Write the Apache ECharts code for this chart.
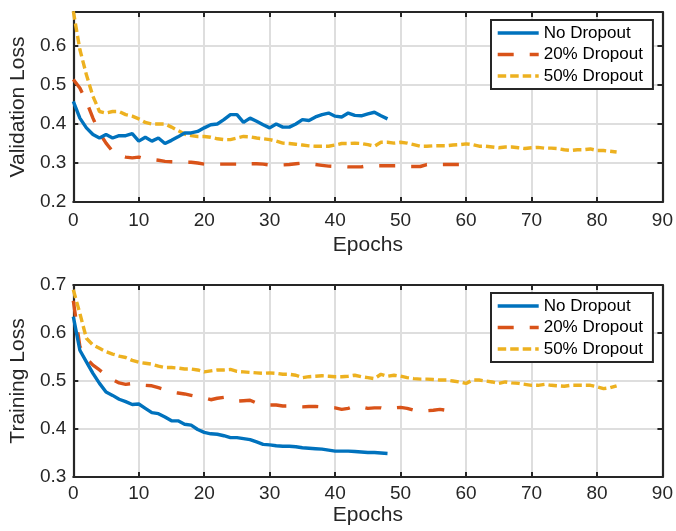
<!DOCTYPE html>
<html>
<head>
<meta charset="utf-8">
<script src="https://cdn.jsdelivr.net/npm/echarts@6/dist/echarts.min.js"></script>
<style>
  html, body { margin: 0; padding: 0; background: #fff; }
  #chart { width: 676px; height: 531px; }
</style>
</head>
<body>
<div id="chart"></div>
<script>
var seriesNames = ['No Dropout', '20% Dropout', '50% Dropout'];
var xTicks = [0, 10, 20, 30, 40, 50, 60, 70, 80, 90];

// validation loss, one value per epoch starting at 0
var valNoDrop = [0.458,0.415,0.39,0.373,0.364,0.373,0.364,0.37,0.37,0.375,
    0.356,0.366,0.356,0.364,0.35,0.358,0.367,0.377,0.377,0.381,
    0.39,0.398,0.40,0.411,0.424,0.424,0.404,0.415,0.407,0.398,
    0.39,0.40,0.392,0.392,0.40,0.411,0.409,0.418,0.424,0.428,
    0.42,0.418,0.428,0.422,0.421,0.426,0.43,0.421,0.413];
var valDrop20 = [0.514,0.492,0.458,0.415,0.377,0.351,0.33,0.32,0.315,0.313,
    0.315,0.31,0.309,0.307,0.304,0.303,0.302,0.302,0.302,0.30,
    0.297,0.297,0.297,0.297,0.297,0.297,0.302,0.298,0.298,0.297,
    0.295,0.295,0.295,0.296,0.298,0.30,0.298,0.296,0.294,0.292,
    0.291,0.291,0.29,0.29,0.29,0.293,0.293,0.293,0.293,0.293,
    0.293,0.291,0.291,0.291,0.296,0.296,0.296,0.296,0.296,0.296];
var valDrop50 = [0.689,0.591,0.526,0.471,0.432,0.428,0.432,0.432,0.424,0.42,
    0.413,0.404,0.40,0.40,0.40,0.392,0.383,0.374,0.37,0.368,
    0.368,0.366,0.362,0.36,0.36,0.364,0.368,0.367,0.364,0.362,
    0.36,0.356,0.351,0.35,0.348,0.346,0.344,0.343,0.343,0.343,
    0.346,0.35,0.35,0.351,0.35,0.347,0.343,0.353,0.353,0.351,
    0.353,0.351,0.347,0.343,0.343,0.344,0.344,0.344,0.346,0.347,
    0.349,0.347,0.343,0.343,0.341,0.339,0.341,0.341,0.339,0.337,
    0.339,0.34,0.338,0.338,0.337,0.334,0.332,0.334,0.334,0.336,
    0.332,0.332,0.33,0.328];

// training loss
var trainNoDrop = [0.634,0.564,0.54,0.516,0.495,0.477,0.47,0.462,0.457,0.451,
    0.452,0.443,0.434,0.432,0.425,0.417,0.417,0.41,0.408,0.399,
    0.393,0.39,0.389,0.386,0.382,0.382,0.38,0.378,0.373,0.368,
    0.367,0.365,0.364,0.364,0.363,0.361,0.36,0.359,0.358,0.356,
    0.354,0.354,0.354,0.353,0.352,0.351,0.351,0.35,0.349];
var trainDrop20 = [0.667,0.572,0.547,0.533,0.523,0.512,0.503,0.496,0.493,0.495,
    0.495,0.491,0.49,0.486,0.482,0.477,0.475,0.473,0.47,0.467,
    0.465,0.461,0.464,0.466,0.461,0.458,0.459,0.46,0.454,0.452,
    0.45,0.45,0.448,0.448,0.446,0.446,0.447,0.447,0.446,0.445,
    0.444,0.441,0.443,0.448,0.446,0.443,0.444,0.444,0.441,0.444,
    0.445,0.443,0.439,0.436,0.438,0.439,0.441,0.439,0.438,0.438];
var trainDrop50 = [0.69,0.641,0.589,0.575,0.568,0.561,0.556,0.552,0.549,0.543,
    0.539,0.537,0.535,0.531,0.528,0.528,0.527,0.525,0.525,0.523,
    0.519,0.521,0.523,0.523,0.524,0.52,0.519,0.518,0.517,0.516,
    0.517,0.516,0.514,0.514,0.512,0.507,0.509,0.51,0.511,0.51,
    0.509,0.509,0.51,0.512,0.509,0.507,0.505,0.514,0.51,0.512,
    0.51,0.507,0.505,0.504,0.504,0.503,0.502,0.502,0.5,0.498,
    0.495,0.502,0.502,0.5,0.498,0.495,0.498,0.496,0.495,0.493,
    0.491,0.491,0.493,0.491,0.49,0.489,0.491,0.491,0.491,0.491,
    0.488,0.484,0.486,0.49];

var colors = ['#0072BD', '#D95319', '#EDB120'];
var dashes = ['solid', [16, 16], [8.5, 4]];
var axisColor = '#262626';
var gridColor = '#dedede';
var font = 'Liberation Sans, Arial, sans-serif';
var lineW = 3.4;

function pairs(arr) {
    return arr.map(function (v, i) { return [i, v]; });
}

function mainX(grid, labelMargin, nameGap) {
    return {
        type: 'value', gridIndex: grid, min: 0, max: 90, interval: 10,
        name: 'Epochs', nameLocation: 'middle', nameGap: nameGap,
        nameTextStyle: { color: axisColor, fontSize: 21, fontFamily: font },
        axisLine: { show: true, lineStyle: { color: axisColor, width: 2.2 } },
        axisTick: { show: true, inside: true, length: 5, lineStyle: { color: axisColor, width: 2 } },
        axisLabel: { color: axisColor, fontSize: 19, fontFamily: font, margin: labelMargin },
        splitLine: { show: true, lineStyle: { color: gridColor, width: 2 } }
    };
}
function boxX(grid) {
    return {
        type: 'value', gridIndex: grid, position: 'top', min: 0, max: 90, interval: 10,
        axisLine: { show: true, onZero: false, lineStyle: { color: axisColor, width: 2.2 } },
        axisTick: { show: true, inside: true, length: 5, lineStyle: { color: axisColor, width: 2 } },
        axisLabel: { show: false }, splitLine: { show: false }
    };
}
function mainY(grid, name, min, max) {
    return {
        type: 'value', gridIndex: grid, min: min, max: max, interval: 0.1,
        name: name, nameLocation: 'middle', nameGap: 37, nameRotate: 90,
        nameTextStyle: { color: axisColor, fontSize: 21, fontFamily: font },
        axisLine: { show: true, onZero: false, lineStyle: { color: axisColor, width: 2.2 } },
        axisTick: { show: true, inside: true, length: 5, lineStyle: { color: axisColor, width: 2 } },
        axisLabel: { color: axisColor, fontSize: 19, fontFamily: font, margin: 7,
            showMaxLabel: max === 0.7,
            formatter: function (v) { return v.toFixed(1); } },
        splitLine: { show: true, lineStyle: { color: gridColor, width: 2 } }
    };
}
function boxY(grid, min, max) {
    return {
        type: 'value', gridIndex: grid, position: 'right', min: min, max: max, interval: 0.1,
        axisLine: { show: true, onZero: false, lineStyle: { color: axisColor, width: 2.2 } },
        axisTick: { show: true, inside: true, length: 5, lineStyle: { color: axisColor, width: 2 } },
        axisLabel: { show: false }, splitLine: { show: false }
    };
}
function line(name, idx, axisIdx, arr) {
    return {
        name: name, type: 'line', xAxisIndex: axisIdx, yAxisIndex: axisIdx,
        data: pairs(arr), symbol: 'none', showSymbol: false,
        lineStyle: { color: colors[idx], width: lineW, type: dashes[idx], cap: 'butt' },
        itemStyle: { color: colors[idx] },
        z: 5 - idx
    };
}
function legend(top) {
    return {
        orient: 'vertical', left: 491, top: top,
        data: seriesNames.slice(),
        itemWidth: 41, itemHeight: 14, itemGap: 1.5,
        padding: [3, 10, 3, 5],
        itemStyle: { opacity: 0 },
        lineStyle: { width: lineW },
        backgroundColor: '#fff', borderColor: axisColor, borderWidth: 2, borderRadius: 0,
        textStyle: { color: '#000', fontSize: 17, fontFamily: font, lineHeight: 20 },
        selectedMode: false
    };
}

var chart = echarts.init(document.getElementById('chart'));
var option = {
    animation: false,
    backgroundColor: '#fff',
    grid: [
        { left: 67, right: 10, top: 12, height: 190 },
        { left: 67, right: 10, top: 285, height: 192 }
    ],
    legend: [legend(20), legend(293)],
    xAxis: [mainX(0, 9, 33), mainX(1, 7, 28), boxX(0), boxX(1)],
    yAxis: [mainY(0, 'Validation Loss', 0.2, 0.687), mainY(1, 'Training Loss', 0.3, 0.7),
        boxY(0, 0.2, 0.687), boxY(1, 0.3, 0.7)],
    series: [
        line(seriesNames[0], 0, 0, valNoDrop),
        line(seriesNames[1], 1, 0, valDrop20),
        line(seriesNames[2], 2, 0, valDrop50),
        line(seriesNames[0], 0, 1, trainNoDrop),
        line(seriesNames[1], 1, 1, trainDrop20),
        line(seriesNames[2], 2, 1, trainDrop50)
    ]
};
chart.setOption(option);
</script>
</body>
</html>
